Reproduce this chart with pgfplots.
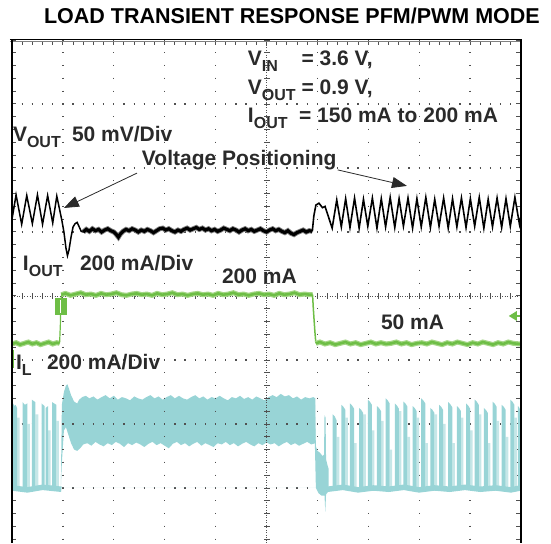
\documentclass[border=0pt]{standalone}
\usepackage{pgfplots}
\pgfplotsset{compat=1.18}
\usepgfplotslibrary{fillbetween}
\usetikzlibrary{arrows.meta}
\usepackage{fontspec}
\setmainfont{Liberation Sans}
\definecolor{txt}{HTML}{2A2A2A}
\definecolor{grd}{HTML}{505050}
\definecolor{ioc}{RGB}{110,190,70}
\definecolor{iol}{RGB}{165,215,135}
\definecolor{ilc}{RGB}{152,212,214}
\definecolor{ill}{RGB}{198,231,232}
\newcommand\sub[1]{\raisebox{-6pt}{\fontsize{16}{16}\selectfont #1}}
\tikzset{
 vdot/.style={grd, line width=1.3pt, dash pattern=on 1.3pt off 11.5pt, dash phase=0.65pt},
 hdot/.style={grd, line width=1.3pt, dash pattern=on 1.3pt off 8.88pt, dash phase=0.65pt},
 lbl/.style={inner sep=0pt, outer sep=0pt, text=txt, font=\fontsize{21}{21}\selectfont\bfseries, anchor=base west},
}
\begin{document}
\begin{tikzpicture}
\begin{axis}[name=ax, at={(0,0)}, anchor=south west, width=509pt, height=503pt, scale only axis,
  xmin=0, xmax=10, ymin=-3.86, ymax=4, hide axis, clip=false]
% ---- graticule ----
\pgfplotsinvokeforeach{1,2,3,4,6,7,8,9}{\draw[vdot] (axis cs:#1,4) -- (axis cs:#1,-3.86);}
\pgfplotsinvokeforeach{-3,-2,-1,1,2,3}{\draw[hdot] (axis cs:0,#1) -- (axis cs:10,#1);}
\draw[grd, line width=0.9pt, dash pattern=on 0.9pt off 1.6pt] (axis cs:5,4) -- (axis cs:5,-3.86);
\draw[grd, line width=6pt, dash pattern=on 0.9pt off 11.9pt, dash phase=0.45pt] (axis cs:5,4) -- (axis cs:5,-3.86);
\draw[grd, line width=0.9pt, dash pattern=on 0.9pt off 1.6pt] (axis cs:0,0) -- (axis cs:10,0);
\draw[grd, line width=6pt, dash pattern=on 0.9pt off 9.28pt, dash phase=0.45pt] (axis cs:0,0) -- (axis cs:10,0);
\draw[grd, line width=4pt, dash pattern=on 1pt off 9.18pt, dash phase=0.5pt] (axis cs:0,3.955) -- (axis cs:10,3.955);
\draw[grd, line width=3pt, dash pattern=on 1pt off 11.8pt, dash phase=0.5pt] (axis cs:0.045,4) -- (axis cs:0.045,-3.86);
\draw[grd, line width=4pt, dash pattern=on 1pt off 11.8pt, dash phase=0.5pt] (axis cs:9.95,4) -- (axis cs:9.95,-3.86);
% ---- I_L (cyan) ----
\addplot[ill, fill=ill, draw=none] coordinates {
(0.10,-3.0)(0.10,-1.90)(0.15,-1.90)(0.15,-3.0)(0.30,-3.0)(0.30,-2.00)(0.35,-2.00)(0.35,-3.0)
(0.46,-3.0)(0.46,-1.85)(0.52,-1.85)(0.52,-3.0)(0.71,-3.0)(0.71,-2.10)(0.76,-2.10)(0.76,-3.0)
(0.87,-3.0)(0.87,-1.95)(0.92,-1.95)(0.92,-3.0)
(6.38,-3.0)(6.38,-2.20)(6.43,-2.20)(6.43,-3.0)(6.55,-3.0)(6.55,-1.90)(6.60,-1.90)(6.60,-3.0)
(6.72,-3.0)(6.72,-2.30)(6.77,-2.30)(6.77,-3.0)(6.90,-3.0)(6.90,-1.85)(6.95,-1.85)(6.95,-3.0)
(7.07,-3.0)(7.07,-2.10)(7.12,-2.10)(7.12,-3.0)(7.25,-3.0)(7.25,-1.95)(7.30,-1.95)(7.30,-3.0)
(7.42,-3.0)(7.42,-2.40)(7.47,-2.40)(7.47,-3.0)(7.60,-3.0)(7.60,-1.80)(7.65,-1.80)(7.65,-3.0)
(7.77,-3.0)(7.77,-2.20)(7.82,-2.20)(7.82,-3.0)(7.95,-3.0)(7.95,-1.90)(8.00,-1.90)(8.00,-3.0)
(8.12,-3.0)(8.12,-2.30)(8.17,-2.30)(8.17,-3.0)(8.30,-3.0)(8.30,-1.85)(8.35,-1.85)(8.35,-3.0)
(8.47,-3.0)(8.47,-2.00)(8.52,-2.00)(8.52,-3.0)(8.65,-3.0)(8.65,-2.30)(8.70,-2.30)(8.70,-3.0)
(8.82,-3.0)(8.82,-1.90)(8.87,-1.90)(8.87,-3.0)(9.00,-3.0)(9.00,-2.10)(9.05,-2.10)(9.05,-3.0)
(9.17,-3.0)(9.17,-1.85)(9.22,-1.85)(9.22,-3.0)(9.35,-3.0)(9.35,-2.30)(9.40,-2.30)(9.40,-3.0)
(9.52,-3.0)(9.52,-1.95)(9.57,-1.95)(9.57,-3.0)(9.70,-3.0)(9.70,-2.20)(9.75,-2.20)(9.75,-3.0)
(9.87,-3.0)(9.87,-1.90)(9.92,-1.90)(9.92,-3.0)} -- cycle;
\addplot[ilc, fill=ilc, draw=none] coordinates {
(0.00,-3.0)(0.02,-3.0)(0.02,-1.68)(0.05,-1.72)(0.07,-1.70)(0.10,-1.75)(0.10,-3.0)
(0.21,-3.0)(0.21,-1.66)(0.25,-1.70)(0.30,-1.68)(0.30,-3.0)
(0.39,-3.0)(0.39,-1.62)(0.46,-1.66)(0.46,-3.0)
(0.58,-3.0)(0.58,-1.68)(0.64,-1.72)(0.64,-3.0)(0.66,-3.0)(0.66,-1.75)(0.71,-1.72)(0.71,-3.0)
(0.79,-3.0)(0.79,-1.66)(0.87,-1.70)(0.87,-3.0)(0.97,-3.0)} -- cycle;
\addplot[ilc, fill=ilc, draw=none] coordinates {
(6.30,-3.0)(6.30,-1.85)(6.34,-1.88)(6.38,-1.95)(6.38,-3.0)
(6.47,-3.0)(6.47,-1.70)(6.51,-1.73)(6.55,-1.78)(6.55,-3.0)
(6.64,-3.0)(6.64,-1.68)(6.68,-1.71)(6.72,-1.76)(6.72,-3.0)
(6.82,-3.0)(6.82,-1.75)(6.86,-1.78)(6.90,-1.83)(6.90,-3.0)
(6.99,-3.0)(6.99,-1.62)(7.03,-1.65)(7.07,-1.70)(7.07,-3.0)
(7.17,-3.0)(7.17,-1.72)(7.21,-1.75)(7.25,-1.80)(7.25,-3.0)
(7.34,-3.0)(7.34,-1.60)(7.38,-1.63)(7.42,-1.68)(7.42,-3.0)
(7.52,-3.0)(7.52,-1.68)(7.56,-1.71)(7.60,-1.76)(7.60,-3.0)
(7.69,-3.0)(7.69,-1.65)(7.73,-1.68)(7.77,-1.73)(7.77,-3.0)
(7.87,-3.0)(7.87,-1.72)(7.91,-1.75)(7.95,-1.80)(7.95,-3.0)
(8.04,-3.0)(8.04,-1.60)(8.08,-1.63)(8.12,-1.68)(8.12,-3.0)
(8.22,-3.0)(8.22,-1.75)(8.26,-1.78)(8.30,-1.83)(8.30,-3.0)
(8.39,-3.0)(8.39,-1.70)(8.43,-1.73)(8.47,-1.78)(8.47,-3.0)
(8.57,-3.0)(8.57,-1.66)(8.61,-1.69)(8.65,-1.74)(8.65,-3.0)
(8.74,-3.0)(8.74,-1.72)(8.78,-1.75)(8.82,-1.80)(8.82,-3.0)
(8.92,-3.0)(8.92,-1.68)(8.96,-1.71)(9.00,-1.76)(9.00,-3.0)
(9.09,-3.0)(9.09,-1.62)(9.13,-1.65)(9.17,-1.70)(9.17,-3.0)
(9.27,-3.0)(9.27,-1.75)(9.31,-1.78)(9.35,-1.83)(9.35,-3.0)
(9.44,-3.0)(9.44,-1.65)(9.48,-1.68)(9.52,-1.73)(9.52,-3.0)
(9.62,-3.0)(9.62,-1.70)(9.66,-1.73)(9.70,-1.78)(9.70,-3.0)
(9.79,-3.0)(9.79,-1.62)(9.83,-1.65)(9.87,-1.70)(9.87,-3.0)
(9.94,-3.0)(9.94,-1.72)(9.97,-1.75)(9.99,-1.80)(9.99,-3.0)} -- cycle;
\addplot[ilc, line width=5.5pt] coordinates {(0.00,-3.00)(0.30,-3.03)(0.60,-2.99)(0.97,-3.02)};
\addplot[ilc, line width=5.5pt] coordinates {(6.20,-3.02)(6.50,-2.99)(6.80,-3.03)(7.10,-3.00)(7.40,-3.02)(7.70,-2.99)(8.00,-3.03)(8.30,-3.00)(8.60,-3.02)(8.90,-2.99)(9.20,-3.02)(9.50,-3.00)(9.80,-3.03)(9.99,-3.00)};
\addplot[name path=up, draw=none] coordinates {
(0.96,-2.95)(0.98,-1.70)(1.02,-1.50)(1.06,-1.40)(1.09,-1.38)(1.12,-1.45)(1.16,-1.55)(1.22,-1.65)(1.28,-1.68)(1.32,-1.62)(1.38,-1.58)(1.45,-1.56)(1.52,-1.60)(1.60,-1.57)(1.68,-1.62)(1.76,-1.58)(1.84,-1.55)(1.92,-1.60)(2.00,-1.56)(2.08,-1.62)(2.16,-1.58)(2.24,-1.60)(2.32,-1.63)(2.40,-1.57)(2.48,-1.60)(2.56,-1.62)(2.64,-1.58)(2.72,-1.55)(2.80,-1.60)(2.88,-1.57)(2.96,-1.62)(3.04,-1.58)(3.12,-1.55)(3.20,-1.60)(3.28,-1.56)(3.36,-1.60)(3.44,-1.62)(3.52,-1.58)(3.60,-1.55)(3.68,-1.60)(3.76,-1.57)(3.84,-1.62)(3.92,-1.58)(4.00,-1.60)(4.08,-1.56)(4.16,-1.60)(4.24,-1.63)(4.32,-1.58)(4.40,-1.60)(4.48,-1.56)(4.56,-1.61)(4.64,-1.58)(4.72,-1.62)(4.80,-1.57)(4.88,-1.60)(4.96,-1.63)(5.04,-1.58)(5.12,-1.55)(5.20,-1.58)(5.28,-1.53)(5.36,-1.57)(5.44,-1.55)(5.52,-1.60)(5.60,-1.57)(5.68,-1.62)(5.76,-1.58)(5.84,-1.60)(5.92,-1.58)(5.96,-1.60)};
\addplot[name path=lo, draw=none] coordinates {
(0.96,-3.00)(0.98,-2.60)(1.02,-2.10)(1.06,-2.05)(1.10,-2.15)(1.16,-2.30)(1.22,-2.40)(1.28,-2.42)(1.34,-2.38)(1.40,-2.32)(1.48,-2.30)(1.56,-2.34)(1.64,-2.28)(1.72,-2.32)(1.80,-2.35)(1.88,-2.30)(1.96,-2.33)(2.04,-2.28)(2.12,-2.31)(2.20,-2.36)(2.28,-2.30)(2.36,-2.33)(2.44,-2.29)(2.52,-2.32)(2.60,-2.36)(2.68,-2.31)(2.76,-2.28)(2.84,-2.33)(2.92,-2.30)(3.00,-2.34)(3.08,-2.38)(3.16,-2.31)(3.24,-2.28)(3.32,-2.33)(3.40,-2.30)(3.48,-2.35)(3.56,-2.31)(3.64,-2.28)(3.72,-2.34)(3.80,-2.30)(3.88,-2.33)(3.96,-2.36)(4.04,-2.30)(4.12,-2.32)(4.20,-2.28)(4.28,-2.33)(4.36,-2.30)(4.44,-2.35)(4.52,-2.31)(4.60,-2.28)(4.68,-2.32)(4.76,-2.35)(4.84,-2.30)(4.92,-2.33)(5.00,-2.29)(5.08,-2.32)(5.16,-2.30)(5.24,-2.35)(5.32,-2.31)(5.40,-2.28)(5.48,-2.33)(5.56,-2.30)(5.64,-2.34)(5.72,-2.31)(5.80,-2.28)(5.88,-2.32)(5.96,-2.30)};
\addplot[ilc, draw=none] fill between[of=up and lo];
\addplot[ilc, fill=ilc, draw=none] coordinates {
(5.95,-1.60)(5.97,-2.35)(6.00,-2.42)(6.05,-2.45)(6.10,-2.50)(6.13,-2.48)(6.14,-1.86)(6.16,-1.90)(6.17,-2.55)(6.20,-2.65)(6.22,-2.70)(6.22,-3.05)(6.17,-3.10)(6.155,-3.375)(6.14,-3.12)(6.08,-3.12)(6.02,-3.08)(5.97,-3.00)(5.95,-2.30)} -- cycle;
% ---- I_OUT (green) ----
\addplot[iol, line width=5pt] coordinates {(0.00,-0.75)(0.08,-0.73)(0.16,-0.76)(0.24,-0.74)(0.32,-0.72)(0.40,-0.75)(0.48,-0.73)(0.56,-0.76)(0.64,-0.74)(0.72,-0.72)(0.80,-0.75)(0.88,-0.73)(0.935,-0.74)};
\addplot[ioc, line width=2.6pt] coordinates {(0.00,-0.75)(0.08,-0.73)(0.16,-0.76)(0.24,-0.74)(0.32,-0.72)(0.40,-0.75)(0.48,-0.73)(0.56,-0.76)(0.64,-0.74)(0.72,-0.72)(0.80,-0.75)(0.88,-0.73)(0.935,-0.74)};
\addplot[ioc, line width=1.2pt] coordinates {(0.935,-0.74)(0.95,-0.45)(0.96,-0.05)(0.98,0.02)};
\addplot[iol, line width=5pt] coordinates {(0.97,0.02)(1.05,0.04)(1.15,0.01)(1.25,0.03)(1.35,0.05)(1.45,0.02)(1.55,0.03)(1.65,0.01)(1.75,0.04)(1.85,0.02)(1.95,0.03)(2.05,0.05)(2.15,0.02)(2.25,0.01)(2.35,0.03)(2.45,0.04)(2.55,0.02)(2.65,0.03)(2.75,0.01)(2.85,0.04)(2.95,0.02)(3.05,0.03)(3.15,0.05)(3.25,0.02)(3.35,0.03)(3.45,0.01)(3.55,0.03)(3.65,0.04)(3.75,0.02)(3.85,0.03)(3.95,0.01)(4.05,0.04)(4.15,0.02)(4.25,0.03)(4.35,0.05)(4.45,0.02)(4.55,0.03)(4.65,0.01)(4.75,0.03)(4.85,0.04)(4.95,0.02)(5.05,0.03)(5.15,0.01)(5.25,0.04)(5.35,0.02)(5.45,0.03)(5.55,0.05)(5.65,0.02)(5.75,0.03)(5.85,0.02)(5.905,0.02)};
\addplot[ioc, line width=2.6pt] coordinates {(0.97,0.02)(1.05,0.04)(1.15,0.01)(1.25,0.03)(1.35,0.05)(1.45,0.02)(1.55,0.03)(1.65,0.01)(1.75,0.04)(1.85,0.02)(1.95,0.03)(2.05,0.05)(2.15,0.02)(2.25,0.01)(2.35,0.03)(2.45,0.04)(2.55,0.02)(2.65,0.03)(2.75,0.01)(2.85,0.04)(2.95,0.02)(3.05,0.03)(3.15,0.05)(3.25,0.02)(3.35,0.03)(3.45,0.01)(3.55,0.03)(3.65,0.04)(3.75,0.02)(3.85,0.03)(3.95,0.01)(4.05,0.04)(4.15,0.02)(4.25,0.03)(4.35,0.05)(4.45,0.02)(4.55,0.03)(4.65,0.01)(4.75,0.03)(4.85,0.04)(4.95,0.02)(5.05,0.03)(5.15,0.01)(5.25,0.04)(5.35,0.02)(5.45,0.03)(5.55,0.05)(5.65,0.02)(5.75,0.03)(5.85,0.02)(5.905,0.02)};
\addplot[ioc, line width=1.5pt] coordinates {(5.905,0.02)(5.92,-0.20)(5.95,-0.55)(5.97,-0.74)};
\addplot[iol, line width=5pt] coordinates {(5.97,-0.74)(6.05,-0.72)(6.15,-0.75)(6.25,-0.73)(6.35,-0.76)(6.45,-0.74)(6.55,-0.72)(6.65,-0.75)(6.75,-0.73)(6.85,-0.76)(6.95,-0.74)(7.05,-0.72)(7.15,-0.75)(7.25,-0.73)(7.35,-0.75)(7.45,-0.74)(7.55,-0.72)(7.65,-0.75)(7.75,-0.73)(7.85,-0.76)(7.95,-0.74)(8.05,-0.73)(8.15,-0.75)(8.25,-0.72)(8.35,-0.74)(8.45,-0.76)(8.55,-0.73)(8.65,-0.75)(8.75,-0.72)(8.85,-0.74)(8.95,-0.76)(9.05,-0.73)(9.15,-0.75)(9.25,-0.72)(9.35,-0.74)(9.45,-0.76)(9.55,-0.73)(9.65,-0.75)(9.75,-0.72)(9.85,-0.74)(9.98,-0.75)};
\addplot[ioc, line width=2.6pt] coordinates {(5.97,-0.74)(6.05,-0.72)(6.15,-0.75)(6.25,-0.73)(6.35,-0.76)(6.45,-0.74)(6.55,-0.72)(6.65,-0.75)(6.75,-0.73)(6.85,-0.76)(6.95,-0.74)(7.05,-0.72)(7.15,-0.75)(7.25,-0.73)(7.35,-0.75)(7.45,-0.74)(7.55,-0.72)(7.65,-0.75)(7.75,-0.73)(7.85,-0.76)(7.95,-0.74)(8.05,-0.73)(8.15,-0.75)(8.25,-0.72)(8.35,-0.74)(8.45,-0.76)(8.55,-0.73)(8.65,-0.75)(8.75,-0.72)(8.85,-0.74)(8.95,-0.76)(9.05,-0.73)(9.15,-0.75)(9.25,-0.72)(9.35,-0.74)(9.45,-0.76)(9.55,-0.73)(9.65,-0.75)(9.75,-0.72)(9.85,-0.74)(9.98,-0.75)};
\fill[ioc] (axis cs:0.845,-0.03) rectangle (axis cs:1.08,-0.30);
\draw[white, line width=1.6pt] (axis cs:0.955,-0.07) -- (axis cs:0.955,-0.27);
\fill[ioc] (axis cs:9.76,-0.3125) -- (axis cs:9.92,-0.234) -- (axis cs:9.92,-0.391) -- cycle;
\draw[ioc, line width=1.5pt] (axis cs:9.9,-0.3125) -- (axis cs:10,-0.3125);
\draw[ioc, line width=2pt] (axis cs:0.02,-0.84) -- (axis cs:0.02,-1.12);
% ---- V_OUT (black) ----
\addplot[black, line width=1.5pt] coordinates {(0.00,1.20)(0.08,1.58)(0.19,1.12)(0.29,1.57)(0.40,1.13)(0.50,1.58)(0.60,1.12)(0.70,1.57)(0.80,1.14)(0.88,1.56)(0.98,1.18)(1.02,1.00)(1.06,0.75)(1.09,0.63)(1.12,0.72)(1.16,0.92)(1.20,1.08)(1.24,1.13)(1.28,1.15)(1.32,1.08)(1.36,1.01)(1.40,1.00)};
\addplot[black!50, line width=5pt] coordinates {(1.40,1.00)(1.46,1.04)(1.52,1.01)(1.58,1.05)(1.64,1.02)(1.70,1.04)(1.76,1.00)(1.82,1.03)(1.88,1.05)(1.94,1.02)(2.00,1.00)(2.05,0.96)(2.09,0.92)(2.13,0.97)(2.18,1.01)(2.24,1.04)(2.30,1.02)(2.36,1.05)(2.42,1.03)(2.48,1.00)(2.54,1.03)(2.60,1.01)(2.66,1.04)(2.72,1.02)(2.78,0.99)(2.84,1.02)(2.90,1.05)(2.96,1.06)(3.02,1.03)(3.08,1.05)(3.14,1.02)(3.20,1.00)(3.26,1.03)(3.32,1.01)(3.38,1.04)(3.44,1.06)(3.50,1.03)(3.56,1.05)(3.62,1.07)(3.68,1.04)(3.74,1.06)(3.80,1.03)(3.86,1.05)(3.92,1.02)(3.98,1.04)(4.04,1.01)(4.10,1.03)(4.16,1.06)(4.22,1.04)(4.28,1.02)(4.34,1.05)(4.40,1.03)(4.46,1.00)(4.52,1.03)(4.58,1.05)(4.64,1.02)(4.70,1.04)(4.76,1.01)(4.82,1.03)(4.88,1.05)(4.94,1.02)(5.00,1.00)(5.06,1.03)(5.12,1.05)(5.18,1.02)(5.24,1.04)(5.30,1.01)(5.36,0.99)(5.42,1.02)(5.48,0.98)(5.54,0.96)(5.60,0.99)(5.66,1.01)(5.72,1.03)(5.78,1.00)(5.84,1.02)(5.90,1.01)};
\addplot[black, line width=3.2pt] coordinates {(1.40,1.00)(1.46,1.04)(1.52,1.01)(1.58,1.05)(1.64,1.02)(1.70,1.04)(1.76,1.00)(1.82,1.03)(1.88,1.05)(1.94,1.02)(2.00,1.00)(2.05,0.96)(2.09,0.92)(2.13,0.97)(2.18,1.01)(2.24,1.04)(2.30,1.02)(2.36,1.05)(2.42,1.03)(2.48,1.00)(2.54,1.03)(2.60,1.01)(2.66,1.04)(2.72,1.02)(2.78,0.99)(2.84,1.02)(2.90,1.05)(2.96,1.06)(3.02,1.03)(3.08,1.05)(3.14,1.02)(3.20,1.00)(3.26,1.03)(3.32,1.01)(3.38,1.04)(3.44,1.06)(3.50,1.03)(3.56,1.05)(3.62,1.07)(3.68,1.04)(3.74,1.06)(3.80,1.03)(3.86,1.05)(3.92,1.02)(3.98,1.04)(4.04,1.01)(4.10,1.03)(4.16,1.06)(4.22,1.04)(4.28,1.02)(4.34,1.05)(4.40,1.03)(4.46,1.00)(4.52,1.03)(4.58,1.05)(4.64,1.02)(4.70,1.04)(4.76,1.01)(4.82,1.03)(4.88,1.05)(4.94,1.02)(5.00,1.00)(5.06,1.03)(5.12,1.05)(5.18,1.02)(5.24,1.04)(5.30,1.01)(5.36,0.99)(5.42,1.02)(5.48,0.98)(5.54,0.96)(5.60,0.99)(5.66,1.01)(5.72,1.03)(5.78,1.00)(5.84,1.02)(5.90,1.01)};
\addplot[black, line width=1.6pt] coordinates {(5.90,1.01)(5.93,1.25)(5.97,1.42)(6.03,1.45)(6.10,1.38)(6.15,1.40)(6.29,1.06)(6.38,1.50)(6.47,1.08)(6.555,1.52)(6.64,1.07)(6.73,1.53)(6.82,1.06)(6.905,1.51)(6.99,1.09)(7.08,1.53)(7.17,1.06)(7.255,1.52)(7.34,1.08)(7.43,1.54)(7.52,1.07)(7.605,1.52)(7.69,1.09)(7.78,1.53)(7.87,1.06)(7.955,1.52)(8.04,1.08)(8.13,1.54)(8.22,1.07)(8.305,1.51)(8.39,1.09)(8.48,1.53)(8.57,1.06)(8.655,1.52)(8.74,1.08)(8.83,1.53)(8.92,1.07)(9.005,1.52)(9.09,1.09)(9.18,1.54)(9.27,1.06)(9.355,1.51)(9.44,1.08)(9.53,1.53)(9.62,1.07)(9.705,1.52)(9.79,1.09)(9.88,1.54)(9.97,1.12)(10.00,1.25)};
% ---- frame ----
\draw[gray, line width=1.2pt] (axis cs:-0.04,3.982) -- (axis cs:10.02,3.982);
\draw[black, line width=1.4pt] (axis cs:-0.04,4.005) -- (axis cs:10.02,4.005);
\draw[black, line width=1.3pt] (axis cs:0,4) -- (axis cs:0,-3.86);
\draw[black, line width=1.5pt] (axis cs:10,4) -- (axis cs:10,-3.86);
% ---- arrows ----
\draw[txt, line width=0.8pt, -{Triangle[length=15pt,width=11pt]}] (axis cs:2.456,1.92) -- (axis cs:1.02,1.375);
\draw[txt, line width=0.8pt, -{Triangle[length=15pt,width=11pt]}] (axis cs:6.40,1.97) -- (axis cs:7.76,1.72);
% ---- texts ----
\node[lbl, anchor=base, font=\fontsize{21.5}{21.5}\selectfont\bfseries, text=black] at (axis cs:5.50,4.25) {LOAD TRANSIENT RESPONSE PFM/PWM MODE};
\node[lbl] at (axis cs:4.636,3.609) {V\sub{IN}};
\node[lbl] at (axis cs:5.69,3.609) {= 3.6 V,};
\node[lbl] at (axis cs:4.636,3.156) {V\sub{OUT}};
\node[lbl] at (axis cs:5.69,3.156) {= 0.9 V,};
\node[lbl] at (axis cs:4.636,2.703) {I\sub{OUT}};
\node[lbl] at (axis cs:5.64,2.703) {= 150 mA to 200 mA};
\node[lbl] at (axis cs:0.02,2.406) {V\sub{OUT}};
\node[lbl] at (axis cs:1.179,2.406) {50 mV/Div};
\node[lbl] at (axis cs:2.554,2.031) {Voltage Positioning};
\node[lbl] at (axis cs:0.216,0.391) {I\sub{OUT}};
\node[lbl] at (axis cs:1.336,0.391) {200 mA/Div};
\node[lbl] at (axis cs:4.126,0.1875) {200 mA};
\node[lbl] at (axis cs:7.25,-0.531) {50 mA};
\node[lbl] at (axis cs:0.079,-1.156) {I\sub{L}};
\node[lbl] at (axis cs:0.688,-1.156) {200 mA/Div};
\end{axis}
\pgfresetboundingbox
\path[use as bounding box] (-12pt,0pt) rectangle (539pt,543pt);
\end{tikzpicture}
\end{document}
